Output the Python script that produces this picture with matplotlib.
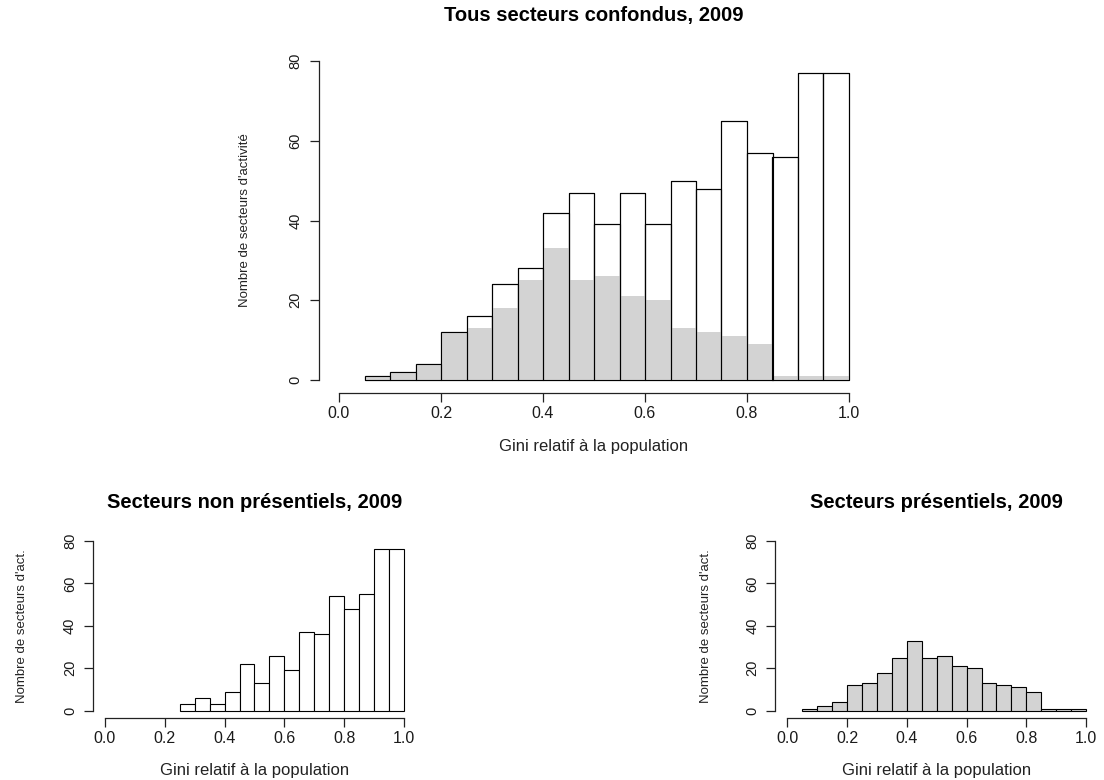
import numpy as np
import matplotlib
matplotlib.use("Agg")
import matplotlib.pyplot as plt

plt.rcParams['font.family'] = ['Liberation Sans', 'DejaVu Sans']

# histogram breaks (width 0.05) and counts per bin
edges = [0.0, 0.05, 0.10, 0.15, 0.20, 0.25, 0.30, 0.35, 0.40, 0.45, 0.50,
         0.55, 0.60, 0.65, 0.70, 0.75, 0.80, 0.85, 0.90, 0.95, 1.0]
total = [0, 1, 2, 4, 12, 16, 24, 28, 42, 47, 39, 47, 39, 50, 48, 65, 57, 56, 77, 77]
presentiel = [0, 1, 2, 4, 12, 13, 18, 25, 33, 25, 26, 21, 20, 13, 12, 11, 9, 1, 1, 1]
non_presentiel = [0, 0, 0, 0, 0, 3, 6, 3, 9, 22, 13, 26, 19, 37, 36, 54, 48, 55, 76, 76]

xticks = [0.0, 0.2, 0.4, 0.6, 0.8, 1.0]
yticks = [0, 20, 40, 60, 80]

GREY = '#d3d3d3'
W, H = 1104, 780
fig = plt.figure(figsize=(W / 100, H / 100), dpi=100)


def px_axes(left, top, right, bottom):
    return fig.add_axes([left / W, 1 - bottom / H, (right - left) / W, (bottom - top) / H])


def bars(ax, counts, **kw):
    left = np.array(edges[:-1])
    width = np.diff(edges)
    c = np.array(counts)
    m = c > 0
    ax.bar(left[m], c[m], width=width[m], align='edge', **kw)


def r_style(ax, title, ylabel, title_y, xlab_y, ylab_x):
    ax.set_xlim(-0.04, 1.04)
    ax.set_ylim(-3.2, 83.2)
    for s in ['top', 'right']:
        ax.spines[s].set_visible(False)
    ax.spines['left'].set_bounds(0, 80)
    ax.spines['bottom'].set_bounds(0, 1)
    for s in ['left', 'bottom']:
        ax.spines[s].set_linewidth(0.9)
        ax.spines[s].set_color('#222222')
    ax.set_xticks(xticks)
    ax.set_xticklabels([f'{v:.1f}' for v in xticks])
    ax.set_yticks(yticks)
    ax.set_yticklabels([str(v) for v in yticks], rotation=90, va='center')
    ax.tick_params(axis='both', direction='out', length=6.5, width=0.9,
                   color='#222222', labelcolor='#1a1a1a')
    ax.tick_params(axis='x', labelsize=11.5, pad=3)
    ax.tick_params(axis='y', labelsize=10.5, pad=5)
    ax.set_title(title, fontsize=14.5, fontweight='bold', y=title_y, va='center', pad=0)
    ax.set_xlabel('Gini relatif à la population', fontsize=12, color='#222222')
    ax.xaxis.set_label_coords(0.5, xlab_y)
    ax.xaxis.label.set_va('center')
    ax.set_ylabel(ylabel, fontsize=9.5, color='#222222')
    ax.yaxis.set_label_coords(ylab_x, 0.5)
    ax.yaxis.label.set_va('center')


# top: all sectors, with presentiel part shaded
ax1 = px_axes(318.6, 48.2, 869.4, 392.8)
bars(ax1, total, color='white', edgecolor='black', linewidth=0.8)
bars(ax1, presentiel, color=GREY, edgecolor='none', linewidth=0)
bars(ax1, total, fill=False, edgecolor='black', linewidth=0.8)
r_style(ax1, 'Tous secteurs confondus, 2009', "Nombre de secteurs d'activité",
        title_y=(392.8 - 16) / 344.6, xlab_y=(392.8 - 447) / 344.6,
        ylab_x=(245 - 318.6) / 550.8)

# bottom left: non presentiel
ax2 = px_axes(93, 534.2, 416, 717.5)
bars(ax2, non_presentiel, color='white', edgecolor='black', linewidth=0.8)
r_style(ax2, 'Secteurs non présentiels, 2009', "Nombre de secteurs d'act.",
        title_y=(717.5 - 502) / 183.3, xlab_y=(717.5 - 771) / 183.3,
        ylab_x=(22 - 93) / 323)

# bottom right: presentiel
ax3 = px_axes(775.4, 534.2, 1098, 717.5)
bars(ax3, presentiel, color=GREY, edgecolor='black', linewidth=0.8)
r_style(ax3, 'Secteurs présentiels, 2009', "Nombre de secteurs d'act.",
        title_y=(717.5 - 502) / 183.3, xlab_y=(717.5 - 771) / 183.3,
        ylab_x=(706 - 775.4) / 322.6)

plt.savefig('out.png', dpi=100)
